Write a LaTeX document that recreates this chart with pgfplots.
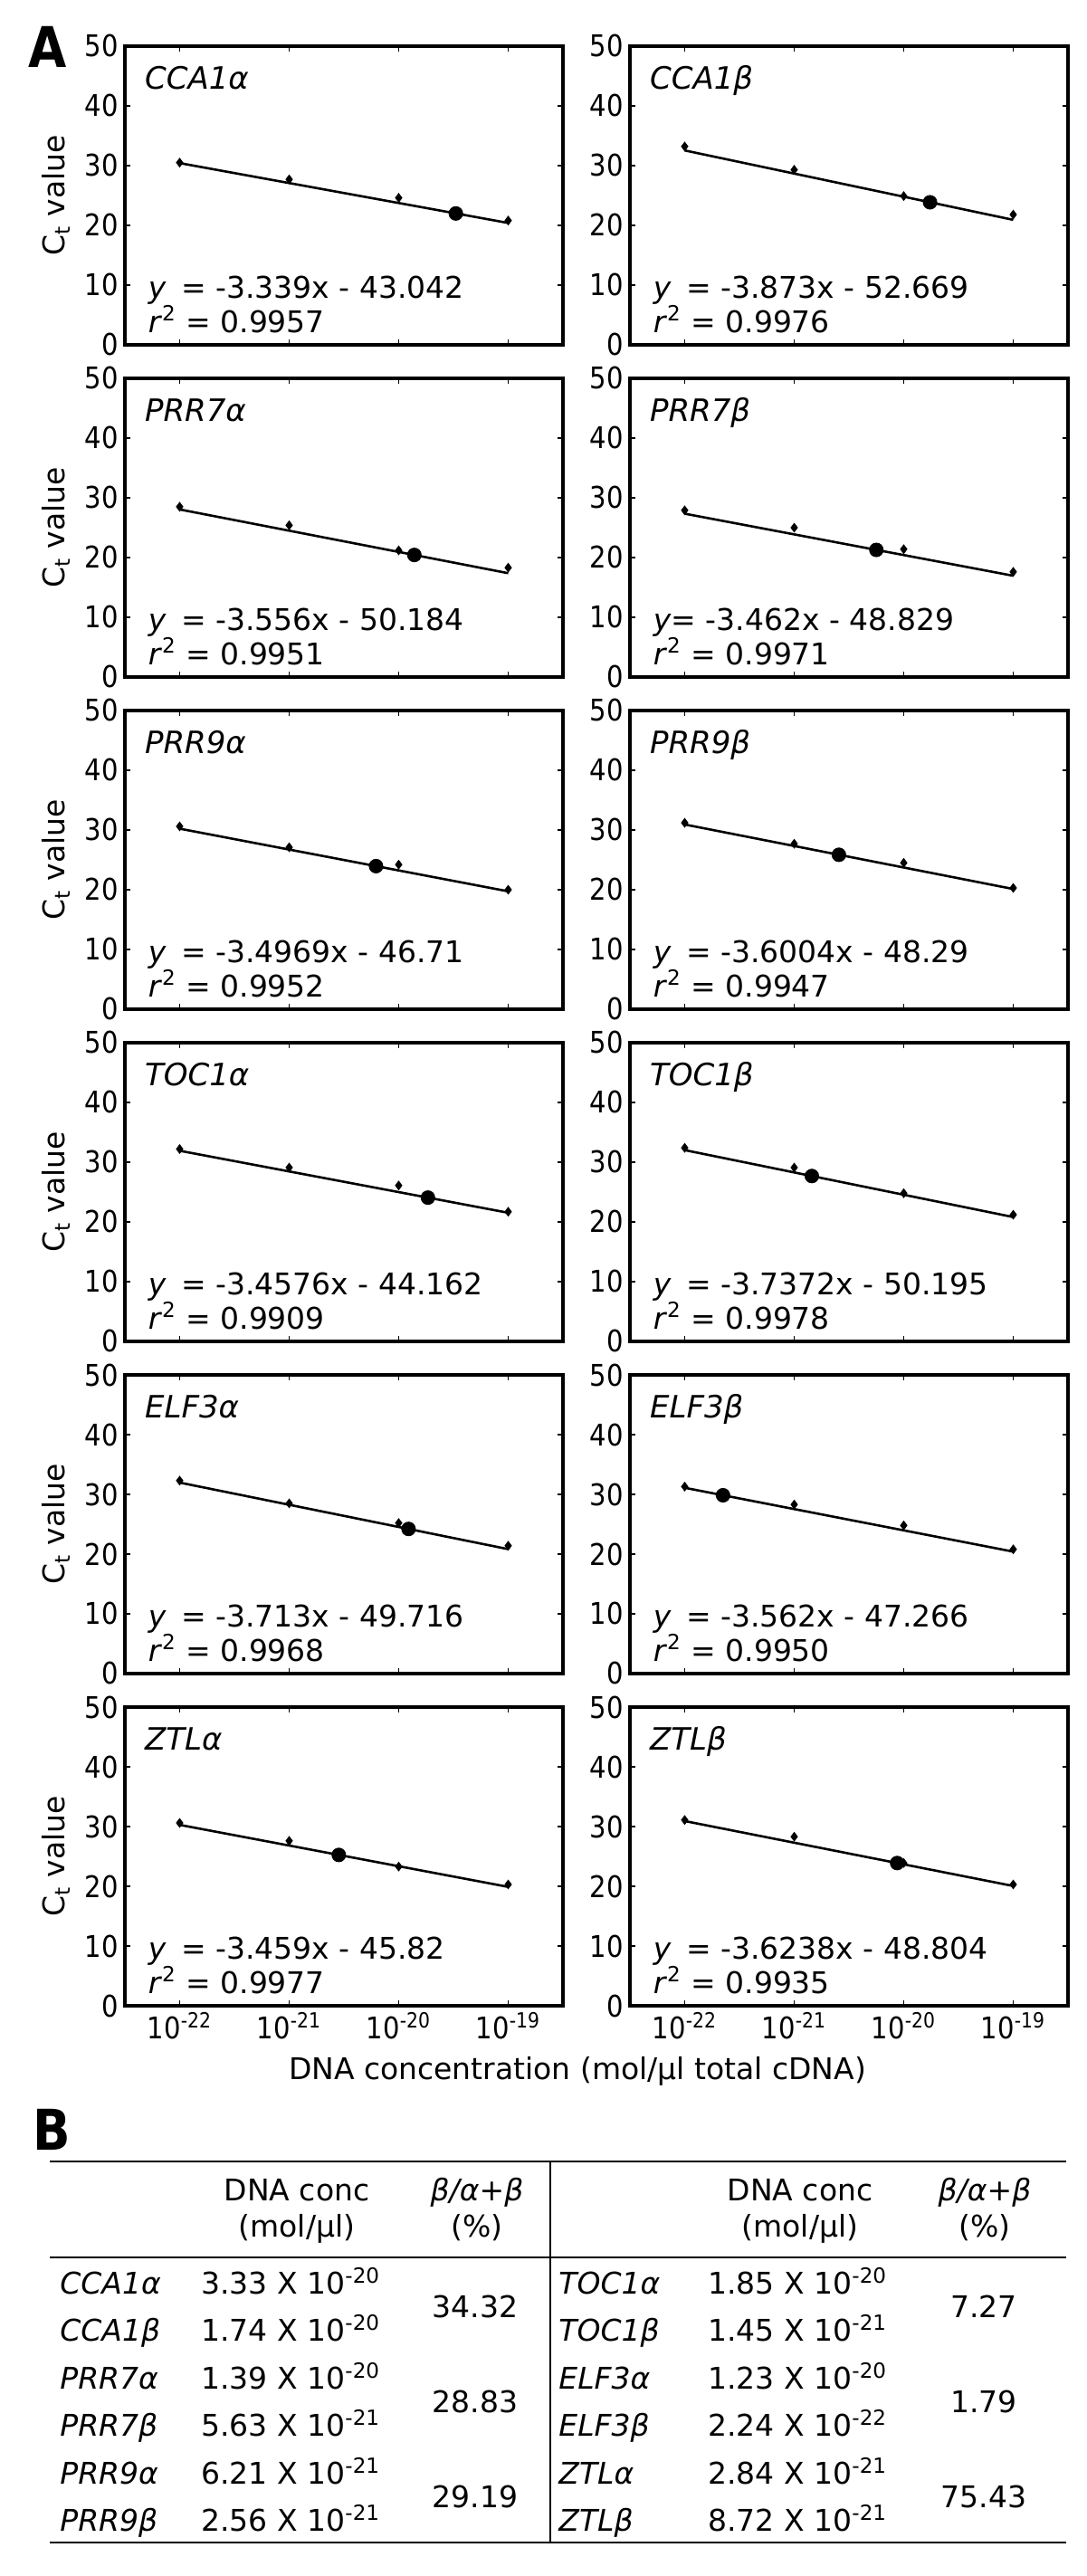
\documentclass[border=0pt]{standalone}
\usepackage{fontspec}
\setmainfont{DejaVu Sans}
\newfontfamily\tickfamily{DejaVu Sans}[FakeStretch=0.88]
\usepackage{pgfplots}
\pgfplotsset{compat=1.18}
\newcommand\eqfont{\fontsize{16.5pt}{20pt}\selectfont}
\newcommand\genefont{\fontsize{17pt}{20pt}\selectfont\itshape}
\newcommand\tabfont{\fontsize{16.5pt}{20pt}\selectfont}
\pgfplotsset{
  panel/.style={scale only axis, width=242pt, height=165pt,
    xmin=-22.5, xmax=-18.5, ymin=0, ymax=50,
    xtick={-22,-21,-20,-19}, ytick={0,10,20,30,40,50}, xticklabels={},
    tick align=inside, major tick length=3pt,
    axis line style={line width=1.7pt},
    tick style={black, line width=0.9pt},
    tick label style={font=\tickfamily\fontsize{16.5}{19}\selectfont},
    /pgf/number format/assume math mode=true,
    clip=false, anchor=south west},
  leftp/.style={ylabel={C\textsubscript{t} value},
    ylabel style={at={(axis description cs:-0.157,0.5)}, anchor=center, font=\fontsize{16.5}{20}\selectfont}},
  rightp/.style={},
  bottomp/.style={xticklabels={10\textsuperscript{-22},10\textsuperscript{-21},10\textsuperscript{-20},10\textsuperscript{-19}}},
  pts/.style={only marks, mark=diamond*, mark size=2.4pt, black},
  fitl/.style={no marks, black, line width=1.3pt},
  dotp/.style={only marks, mark=*, mark size=3.8pt, black},
}
% #1 x, #2 y, #3 style, #4 name, #5 points, #6 fit line, #7 sample, #8 equation, #9 r2
\newcommand\panel[9]{%
\begin{axis}[panel,#3,at={(#1,#2)}]
\addplot[fitl] coordinates {#6};
\addplot[pts] coordinates {#5};
\addplot[dotp] coordinates {#7};
\node[anchor=base west,font=\genefont] at (rel axis cs:0.031,0.855) {#4};
\node[anchor=base west,font=\eqfont] at (rel axis cs:0.039,0.155) {#8};
\node[anchor=base west,font=\eqfont] at (rel axis cs:0.039,0.042) {\textit{r}\textsuperscript{2} = #9};
\end{axis}}
\begin{document}
\begin{tikzpicture}
\path[use as bounding box] (0,0) rectangle (600pt,1423pt);
\node[anchor=base west,font=\tickfamily\fontsize{31pt}{34pt}\selectfont\bfseries,inner sep=0] at (15.5pt,1385.5pt) {A};

% Row 1
\panel{69pt}{1232.5pt}{leftp}{CCA1α}
 {(-22,30.5) (-21,27.7) (-20,24.6) (-19,20.8)}
 {(-22,30.42) (-19,20.40)}
 {(-19.478,21.99)}
 {\textit{y}\enspace= -3.339x - 43.042}{0.9957}
\panel{348pt}{1232.5pt}{rightp}{CCA1β}
 {(-22,33.2) (-21,29.3) (-20,24.9) (-19,21.8)}
 {(-22,32.54) (-19,20.92)}
 {(-19.760,23.86)}
 {\textit{y}\enspace= -3.873x - 52.669}{0.9976}
% Row 2
\panel{69pt}{1049pt}{leftp}{PRR7α}
 {(-22,28.5) (-21,25.4) (-20,21.2) (-19,18.3)}
 {(-22,28.05) (-19,17.38)}
 {(-19.857,20.43)}
 {\textit{y}\enspace= -3.556x - 50.184}{0.9951}
\panel{348pt}{1049pt}{rightp}{PRR7β}
 {(-22,27.9) (-21,25.0) (-20,21.4) (-19,17.6)}
 {(-22,27.34) (-19,16.95)}
 {(-20.250,21.28)}
 {\textit{y}= -3.462x - 48.829}{0.9971}
% Row 3
\panel{69pt}{865.5pt}{leftp}{PRR9α}
 {(-22,30.6) (-21,27.1) (-20,24.2) (-19,20.0)}
 {(-22,30.22) (-19,19.73)}
 {(-20.207,23.95)}
 {\textit{y}\enspace= -3.4969x - 46.71}{0.9952}
\panel{348pt}{865.5pt}{rightp}{PRR9β}
 {(-22,31.2) (-21,27.7) (-20,24.5) (-19,20.3)}
 {(-22,30.92) (-19,20.12)}
 {(-20.592,25.85)}
 {\textit{y}\enspace= -3.6004x - 48.29}{0.9947}
% Row 4
\panel{69pt}{682pt}{leftp}{TOC1α}
 {(-22,32.2) (-21,29.1) (-20,26.1) (-19,21.7)}
 {(-22,31.91) (-19,21.53)}
 {(-19.733,24.07)}
 {\textit{y}\enspace= -3.4576x - 44.162}{0.9909}
\panel{348pt}{682pt}{rightp}{TOC1β}
 {(-22,32.4) (-21,29.1) (-20,24.8) (-19,21.2)}
 {(-22,32.02) (-19,20.81)}
 {(-20.839,27.68)}
 {\textit{y}\enspace= -3.7372x - 50.195}{0.9978}
% Row 5
\panel{69pt}{498.5pt}{leftp}{ELF3α}
 {(-22,32.3) (-21,28.5) (-20,25.2) (-19,21.4)}
 {(-22,31.97) (-19,20.83)}
 {(-19.910,24.21)}
 {\textit{y}\enspace= -3.713x - 49.716}{0.9968}
\panel{348pt}{498.5pt}{rightp}{ELF3β}
 {(-22,31.3) (-21,28.3) (-20,24.8) (-19,20.8)}
 {(-22,31.10) (-19,20.41)}
 {(-21.650,29.85)}
 {\textit{y}\enspace= -3.562x - 47.266}{0.9950}
% Row 6
\panel{69pt}{315pt}{leftp,bottomp}{ZTLα}
 {(-22,30.6) (-21,27.6) (-20,23.3) (-19,20.3)}
 {(-22,30.28) (-19,19.90)}
 {(-20.547,25.25)}
 {\textit{y}\enspace= -3.459x - 45.82}{0.9977}
\panel{348pt}{315pt}{rightp,bottomp}{ZTLβ}
 {(-22,31.1) (-21,28.3) (-20,23.9) (-19,20.3)}
 {(-22,30.92) (-19,20.05)}
 {(-20.060,23.89)}
 {\textit{y}\enspace= -3.6238x - 48.804}{0.9935}

\node[anchor=base,font=\fontsize{16.5pt}{20pt}\selectfont] at (319pt,274pt) {DNA concentration (mol/μl total cDNA)};

% Panel B
\node[anchor=base west,font=\tickfamily\fontsize{31pt}{34pt}\selectfont\bfseries,inner sep=0] at (18pt,235pt) {B};
\draw[line width=1pt] (27.5pt,229pt) -- (589pt,229pt);
\draw[line width=1pt] (27.5pt,176pt) -- (589pt,176pt);
\draw[line width=1pt] (27.5pt,18.5pt) -- (589pt,18.5pt);
\draw[line width=0.8pt] (304pt,229pt) -- (304pt,18.5pt);
\begin{scope}[every node/.style={font=\tabfont, inner sep=0}]
\node[anchor=base] at (164pt,207pt) {DNA conc};
\node[anchor=base] at (164pt,187pt) {(mol/μl)};
\node[anchor=base] at (263.5pt,207pt) {\textit{β/α+β}};
\node[anchor=base] at (263.5pt,187pt) {(\%)};
\node[anchor=base] at (442pt,207pt) {DNA conc};
\node[anchor=base] at (442pt,187pt) {(mol/μl)};
\node[anchor=base] at (544pt,207pt) {\textit{β/α+β}};
\node[anchor=base] at (544pt,187pt) {(\%)};
% left half
\node[anchor=base west] at (33pt,155.5pt) {\textit{CCA1α}};
\node[anchor=base west] at (33pt,129.5pt) {\textit{CCA1β}};
\node[anchor=base west] at (33pt,103pt) {\textit{PRR7α}};
\node[anchor=base west] at (33pt,77pt) {\textit{PRR7β}};
\node[anchor=base west] at (33pt,50.5pt) {\textit{PRR9α}};
\node[anchor=base west] at (33pt,24.5pt) {\textit{PRR9β}};
\node[anchor=base west] at (111pt,155.5pt) {3.33 X 10\textsuperscript{-20}};
\node[anchor=base west] at (111pt,129.5pt) {1.74 X 10\textsuperscript{-20}};
\node[anchor=base west] at (111pt,103pt) {1.39 X 10\textsuperscript{-20}};
\node[anchor=base west] at (111pt,77pt) {5.63 X 10\textsuperscript{-21}};
\node[anchor=base west] at (111pt,50.5pt) {6.21 X 10\textsuperscript{-21}};
\node[anchor=base west] at (111pt,24.5pt) {2.56 X 10\textsuperscript{-21}};
\node[anchor=base] at (262.5pt,142.5pt) {34.32};
\node[anchor=base] at (262.5pt,90pt) {28.83};
\node[anchor=base] at (262.5pt,37.5pt) {29.19};
% right half
\node[anchor=base west] at (308.5pt,155.5pt) {\textit{TOC1α}};
\node[anchor=base west] at (308.5pt,129.5pt) {\textit{TOC1β}};
\node[anchor=base west] at (308.5pt,103pt) {\textit{ELF3α}};
\node[anchor=base west] at (308.5pt,77pt) {\textit{ELF3β}};
\node[anchor=base west] at (308.5pt,50.5pt) {\textit{ZTLα}};
\node[anchor=base west] at (308.5pt,24.5pt) {\textit{ZTLβ}};
\node[anchor=base west] at (391pt,155.5pt) {1.85 X 10\textsuperscript{-20}};
\node[anchor=base west] at (391pt,129.5pt) {1.45 X 10\textsuperscript{-21}};
\node[anchor=base west] at (391pt,103pt) {1.23 X 10\textsuperscript{-20}};
\node[anchor=base west] at (391pt,77pt) {2.24 X 10\textsuperscript{-22}};
\node[anchor=base west] at (391pt,50.5pt) {2.84 X 10\textsuperscript{-21}};
\node[anchor=base west] at (391pt,24.5pt) {8.72 X 10\textsuperscript{-21}};
\node[anchor=base] at (543.5pt,142.5pt) {7.27};
\node[anchor=base] at (543.5pt,90pt) {1.79};
\node[anchor=base] at (543.5pt,37.5pt) {75.43};
\end{scope}
\end{tikzpicture}
\end{document}
